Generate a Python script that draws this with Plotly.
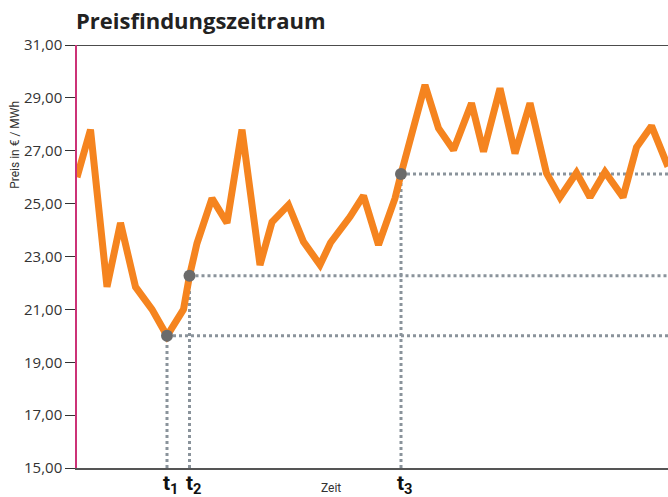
import plotly.graph_objects as go

# Data (time in arbitrary units, price in €/MWh)
zeit = [0, 0.9, 2.0, 2.9, 3.9, 5.0, 6.0, 7.1, 7.5, 8.0, 9.0, 10.0, 11.0, 12.2, 13.0,
        14.1, 15.1, 16.2, 16.9, 18.2, 19.1, 20.1, 21.2, 21.6, 23.2, 24.1, 25.1, 26.3,
        27.1, 28.2, 29.2, 30.2, 31.3, 32.2, 33.3, 34.2, 35.2, 36.4, 37.3, 38.3, 39.4]
preis = [26.0, 27.8, 21.85, 24.27, 21.85, 21.0, 20.0, 21.0, 22.27, 23.5, 25.2, 24.27,
         27.8, 22.68, 24.3, 24.95, 23.56, 22.68, 23.52, 24.5, 25.3, 23.44, 25.2, 26.12,
         29.49, 27.85, 27.03, 28.8, 26.97, 29.36, 26.9, 28.8, 26.15, 25.24, 26.17, 25.24,
         26.2, 25.24, 27.13, 27.94, 26.4]
marker_idx = [6, 8, 23]
marker_labels = ["t<sub>1</sub>", "t<sub>2</sub>", "t<sub>3</sub>"]
zeit_label_x = 16.9

y_ticks = [15, 17, 19, 21, 23, 25, 27, 29, 31]
x_min, x_max = 0, 39.4
y_min, y_max = 15, 31

ORANGE = "#F5841F"
DOT_GRAY = "#8a939b"
MARK_GRAY = "#6b6b6b"

fig = go.Figure()

# Dotted guide lines
for i in marker_idx:
    tx, ty = zeit[i], preis[i]
    fig.add_trace(go.Scatter(x=[tx, tx], y=[y_min, ty], mode="lines",
                             line=dict(color=DOT_GRAY, width=3, dash="3px,3px"),
                             hoverinfo="skip", showlegend=False))
    fig.add_trace(go.Scatter(x=[tx, x_max], y=[ty, ty], mode="lines",
                             line=dict(color=DOT_GRAY, width=3, dash="3px,3px"),
                             hoverinfo="skip", showlegend=False))

fig.add_trace(go.Scatter(x=zeit, y=preis, mode="lines",
                         line=dict(color=ORANGE, width=7),
                         showlegend=False))

fig.add_trace(go.Scatter(x=[zeit[i] for i in marker_idx], y=[preis[i] for i in marker_idx],
                         mode="markers", marker=dict(color=MARK_GRAY, size=12),
                         showlegend=False))

annotations = []
for i, lab in zip(marker_idx, marker_labels):
    annotations.append(dict(x=zeit[i], y=-0.038, xref="x", yref="paper", text="<b>" + lab + "</b>",
                            showarrow=False, xanchor="left", yanchor="middle", xshift=-6,
                            font=dict(family="Roboto", size=21, color="#111111")))
annotations.append(dict(x=zeit_label_x, y=-0.047, xref="x", yref="paper", text="Zeit",
                        showarrow=False, xanchor="center", yanchor="middle",
                        font=dict(family="Roboto", size=12, color="#333333")))
annotations.append(dict(x=-0.105, y=0.764, xref="paper", yref="paper", text="Preis in € / MWh",
                        showarrow=False, textangle=-90, xanchor="center", yanchor="middle",
                        font=dict(family="Roboto", size=12, color="#333333")))
annotations.append(dict(x=0, y=1, xref="paper", yref="paper", text="<b>Preisfindungszeitraum</b>",
                        showarrow=False, xanchor="left", yanchor="middle", yshift=25, xshift=-3,
                        font=dict(family="Open Sans", size=22, color="#222222")))

fig.update_layout(
    width=668, height=497,
    margin=dict(l=77, r=0, t=45, b=29),
    paper_bgcolor="white", plot_bgcolor="white",
    separators=",.",
    annotations=annotations,
    shapes=[dict(type="line", xref="paper", yref="y", x0=0, x1=1, y0=y_max, y1=y_max,
                 line=dict(color="#111111", width=1.5))],
    xaxis=dict(range=[x_min, x_max], showgrid=False, zeroline=False, showticklabels=False,
               ticks="", showline=True, linecolor="#555555", linewidth=1.5, fixedrange=True),
    yaxis=dict(range=[y_min, y_max], tickvals=y_ticks, tickformat=".2f", showgrid=False,
               zeroline=False, ticks="outside", ticklen=10, tickcolor="#333333", tickwidth=1,
               showline=True, linecolor="#cc3377", linewidth=1.5,
               tickfont=dict(family="Open Sans", size=15, color="#333333"), fixedrange=True),
)

fig.write_html(
    "out.html",
    config={"displayModeBar": False},
    post_script="document.body.style.margin='0';document.body.style.overflow='hidden';",
)
